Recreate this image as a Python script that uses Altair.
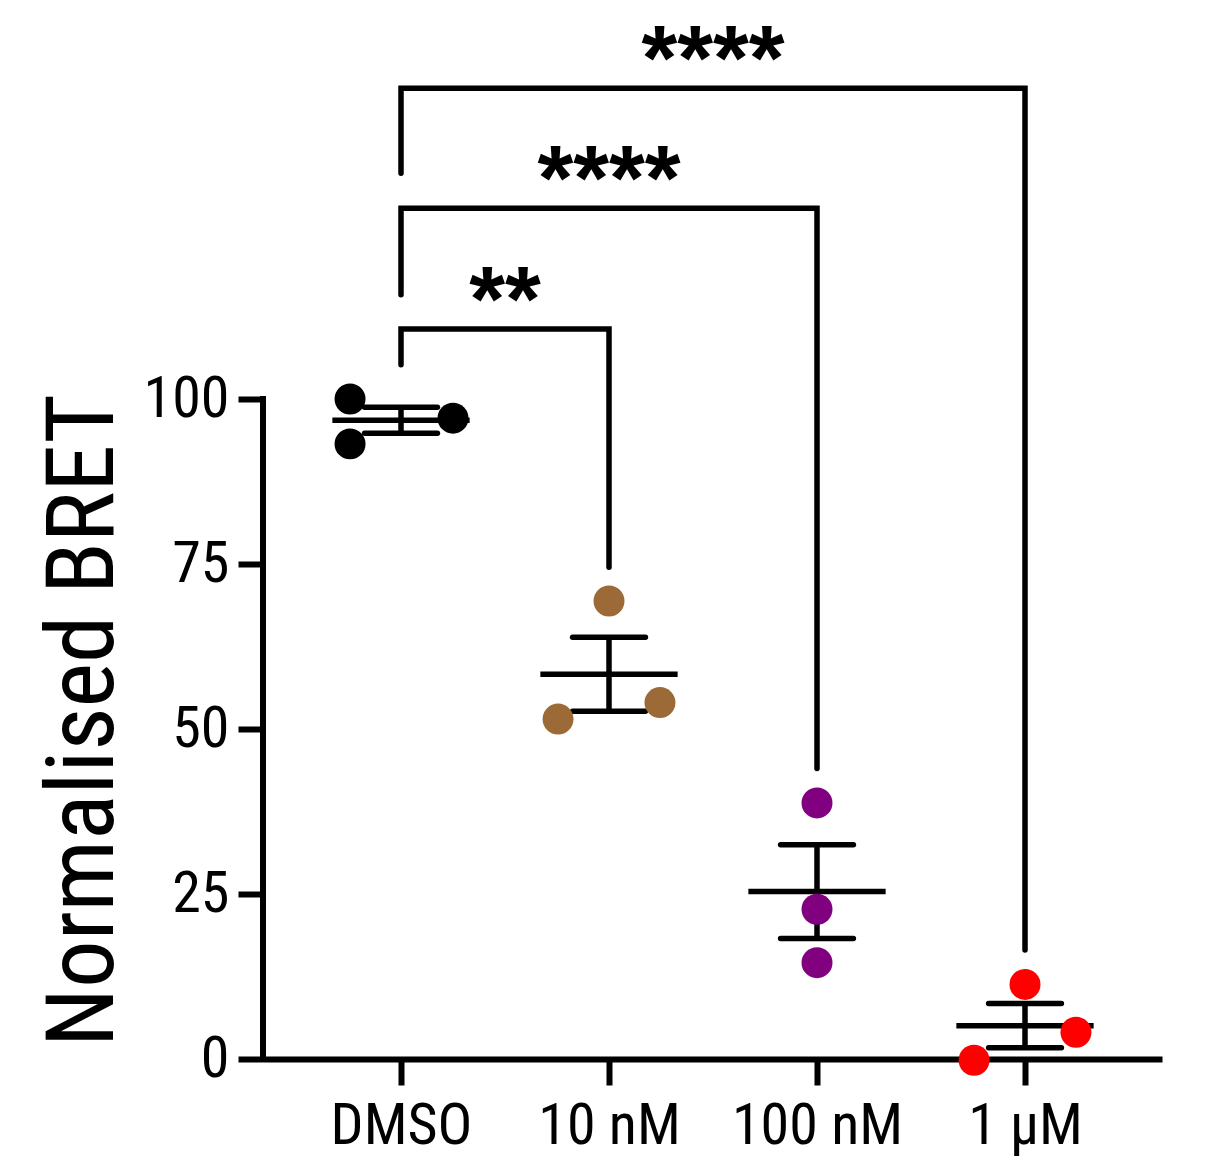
import json
import numpy as np
import pandas as pd
import altair as alt

# ---- data ----
groups = ["DMSO", "10 nM", "100 nM", "1 µM"]
colors = ["#000000", "#9C6A37", "#800080", "#FF0000"]

dmso_vals = [100.0, 93.2, 97.1]
nm10_vals = [69.4, 51.5, 54.0]
nm100_vals = [38.8, 22.7, 14.6]
um1_vals = [11.3, -0.2, 4.05]

# horizontal jitter of each replicate (in category units)
dmso_jit = [-0.245, -0.245, 0.25]
nm10_jit = [0.0, -0.245, 0.245]
nm100_jit = [0.0, 0.0, 0.0]
um1_jit = [0.0, -0.245, 0.245]

# significance brackets: left group, right group, top, left end, right end, label
br_left = [0, 0, 0]
br_right = [1, 2, 3]
br_top = [110.6, 128.9, 147.1]
br_left_end = [105.2, 115.8, 134.2]
br_right_end = [74.5, 44.0, 16.5]
br_label = ["**", "****", "****"]

y_ticks = [0, 25, 50, 75, 100]

# ---- layout ----
PAD_TOP = 8
W, H = 899, 1043
PX_PER_UNIT = 6.6
YMAX = H / PX_PER_UNIT
CAT_PX = 208
X_MIN = -138 / CAT_PX
X_MAX = 3 + 137 / CAT_PX
NARROW = "Roboto Condensed, Liberation Sans Narrow, Arial Narrow, DejaVu Sans Condensed"
LW = 5.5

all_vals = [dmso_vals, nm10_vals, nm100_vals, um1_vals]
all_jit = [dmso_jit, nm10_jit, nm100_jit, um1_jit]

rows = []
for i, (vals, jit) in enumerate(zip(all_vals, all_jit)):
    for v, j in zip(vals, jit):
        rows.append({"group": groups[i], "x": i + j, "y": v})
pts = pd.DataFrame(rows)

stat_rows = []
for i, vals in enumerate(all_vals):
    a = np.array(vals)
    m = a.mean()
    sem = a.std(ddof=1) / np.sqrt(len(a))
    stat_rows.append({"idx": i, "mean": m, "lo": m - sem, "hi": m + sem,
                      "ml": i - 0.33, "mr": i + 0.33, "cl": i - 0.175, "cr": i + 0.175})
stats = pd.DataFrame(stat_rows)

path_rows = []
for k in range(len(br_left)):
    seq = [(br_left[k], br_left_end[k]), (br_left[k], br_top[k]),
           (br_right[k], br_top[k]), (br_right[k], br_right_end[k])]
    for o, (xx, yy) in enumerate(seq):
        path_rows.append({"b": k, "o": o, "x": xx, "y": yy})
paths = pd.DataFrame(path_rows)

labels_df = pd.DataFrame({
    "x": [(l + r) / 2 for l, r in zip(br_left, br_right)],
    "y": br_top,
    "label": br_label,
})

xscale = alt.Scale(domain=[X_MIN, X_MAX], nice=False, zero=False)
yscale = alt.Scale(domain=[0, YMAX], nice=False, zero=False)

label_expr = json.dumps(groups) + "[datum.value]"

x_axis = alt.Axis(values=[0, 1, 2, 3], labelExpr=label_expr, title=None, grid=False,
                  domainColor="black", domainWidth=6, tickColor="black", tickWidth=6,
                  tickSize=26, labelFont=NARROW, labelFontSize=58, labelColor="black",
                  labelPadding=12, labelFlush=False, labelOverlap=False, labelLimit=0)
y_axis = alt.Axis(values=y_ticks, title="Normalised BRET", grid=False, domain=False,
                  tickColor="black", tickWidth=6, tickSize=25, labelFont=NARROW,
                  labelFontSize=58, labelColor="black", labelPadding=9, labelLimit=0,
                  titleFont=NARROW, titleFontSize=95, titleFontWeight="normal",
                  titleColor="black", titleAngle=-90, titleAlign="center",
                  titleBaseline="alphabetic", titleX=-151, titleY=712 - PAD_TOP, titleLimit=0)

base_x = alt.X("x:Q", scale=xscale, axis=x_axis)
base_y = alt.Y("y:Q", scale=yscale, axis=y_axis)

brackets = alt.Chart(paths).mark_line(color="black", strokeWidth=LW, strokeCap="round",
                                      strokeJoin="miter").encode(
    x=base_x, y=base_y, detail="b:N", order="o:Q")

yaxis_line = alt.Chart(pd.DataFrame({"a": [0], "b": [100]})).mark_rule(
    color="black", strokeWidth=6, strokeCap="square").encode(
    x=alt.value(0), y=alt.Y("a:Q", scale=yscale), y2="b:Q")

mean_line = alt.Chart(stats).mark_rule(color="black", strokeWidth=LW).encode(
    x=alt.X("ml:Q", scale=xscale), x2="mr:Q", y=alt.Y("mean:Q", scale=yscale))
err_v = alt.Chart(stats).mark_rule(color="black", strokeWidth=LW).encode(
    x=alt.X("idx:Q", scale=xscale), y=alt.Y("lo:Q", scale=yscale), y2="hi:Q")
cap_lo = alt.Chart(stats).mark_rule(color="black", strokeWidth=LW, strokeCap="round").encode(
    x=alt.X("cl:Q", scale=xscale), x2="cr:Q", y=alt.Y("lo:Q", scale=yscale))
cap_hi = alt.Chart(stats).mark_rule(color="black", strokeWidth=LW, strokeCap="round").encode(
    x=alt.X("cl:Q", scale=xscale), x2="cr:Q", y=alt.Y("hi:Q", scale=yscale))

points = alt.Chart(pts).mark_circle(size=960, opacity=1).encode(
    x=alt.X("x:Q", scale=xscale),
    y=alt.Y("y:Q", scale=yscale),
    color=alt.Color("group:N", scale=alt.Scale(domain=groups, range=colors), legend=None),
)

stars = alt.Chart(labels_df).mark_text(
    font="Liberation Sans, Arial, sans-serif", fontWeight="bold", fontSize=92,
    color="black", align="center", baseline="alphabetic", dy=2).encode(
    x=alt.X("x:Q", scale=xscale), y=alt.Y("y:Q", scale=yscale), text="label:N")

chart = alt.layer(brackets, yaxis_line, mean_line, err_v, cap_lo, cap_hi, points, stars).properties(
    width=W, height=H,
    autosize=alt.AutoSizeParams(type="none"),
    padding={"left": 255, "top": PAD_TOP, "right": 45, "bottom": 98},
).configure(background="white").configure_view(stroke=None)

chart.save("out.html", embed_options={"renderer": "svg", "actions": False})
